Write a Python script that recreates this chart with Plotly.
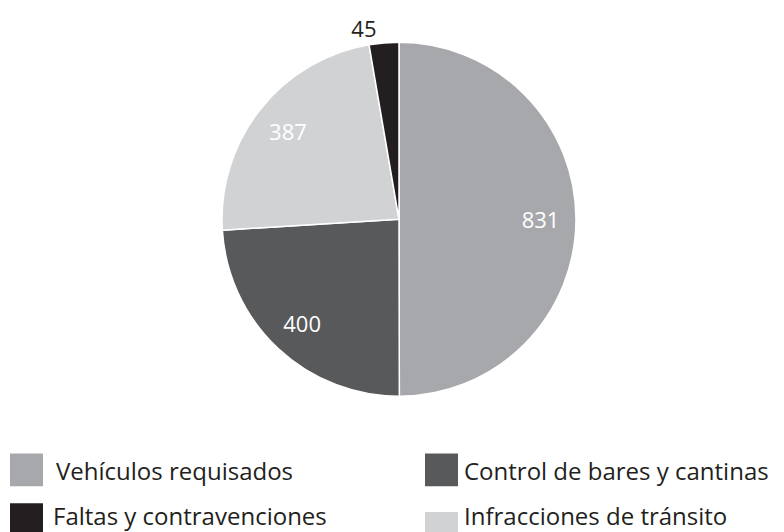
import plotly.graph_objects as go

# datos del grafico
categorias = ['Vehículos requisados', 'Control de bares y cantinas',
              'Infracciones de tránsito', 'Faltas y contravenciones']
valores = [831, 400, 387, 45]
colores = ['#a7a8ab', '#58595b', '#d1d2d4', '#231f20']
posiciones_texto = ['inside', 'inside', 'inside', 'outside']

# orden de la leyenda (dos columnas)
leyenda_orden = ['Vehículos requisados', 'Control de bares y cantinas',
                 'Faltas y contravenciones', 'Infracciones de tránsito']

# el body de la pagina tiene 8px de margen
OFF = 8
W, H = 784 - OFF, 532 - OFF
fuente = 'Open Sans'

cx, cy, r = 399 - OFF, 217.5 - OFF, 178
dominio = dict(x=[(cx - r) / W, (cx + r) / W], y=[1 - (cy + r) / H, 1 - (cy - r) / H])

fig = go.Figure()
# torta base
fig.add_trace(go.Pie(
    labels=categorias,
    values=valores,
    sort=False,
    direction='clockwise',
    rotation=0,
    marker=dict(colors=colores, line=dict(color='white', width=1.5)),
    textinfo='none',
    showlegend=False,
    hoverinfo='label+value',
    domain=dominio,
))
# capa transparente (anillo) solo para ubicar las etiquetas mas afuera
fig.add_trace(go.Pie(
    labels=categorias,
    values=valores,
    sort=False,
    direction='clockwise',
    rotation=0,
    hole=0.6,
    marker=dict(colors=['rgba(0,0,0,0)'] * len(valores), line=dict(width=0)),
    textinfo='value',
    textposition=posiciones_texto,
    insidetextorientation='horizontal',
    insidetextfont=dict(color='white', size=22, family=fuente),
    outsidetextfont=dict(color='#231f20', size=22, family=fuente),
    showlegend=False,
    hoverinfo='skip',
    domain=dominio,
))

# leyenda dibujada a mano: cuadros + textos
cuadros = [(10, 453, 43, 486), (425, 453, 458, 486), (10, 503, 43, 536), (425, 512, 458, 545)]
textos_xy = [(54, 470), (462, 470), (51, 515), (462, 515)]
color_de = dict(zip(categorias, colores))
shapes = []
annotations = []
for nombre, (x0, y0, x1, y1), (tx, ty) in zip(leyenda_orden, cuadros, textos_xy):
    shapes.append(dict(type='rect', xref='paper', yref='paper',
                       x0=(x0 - OFF) / W, x1=(x1 - OFF) / W,
                       y0=1 - (y1 - OFF) / H, y1=1 - (y0 - OFF) / H,
                       fillcolor=color_de[nombre], line=dict(width=0)))
    annotations.append(dict(text=nombre, xref='paper', yref='paper',
                            x=(tx - OFF) / W, y=1 - (ty - OFF) / H,
                            xanchor='left', yanchor='middle', showarrow=False,
                            font=dict(size=24, color='#231f20', family=fuente)))

fig.update_layout(
    width=W, height=H,
    margin=dict(l=0, r=0, t=0, b=0),
    paper_bgcolor='white', plot_bgcolor='white',
    font=dict(family=fuente, color='#231f20'),
    shapes=shapes,
    annotations=annotations,
)

fig.write_html('out.html')
